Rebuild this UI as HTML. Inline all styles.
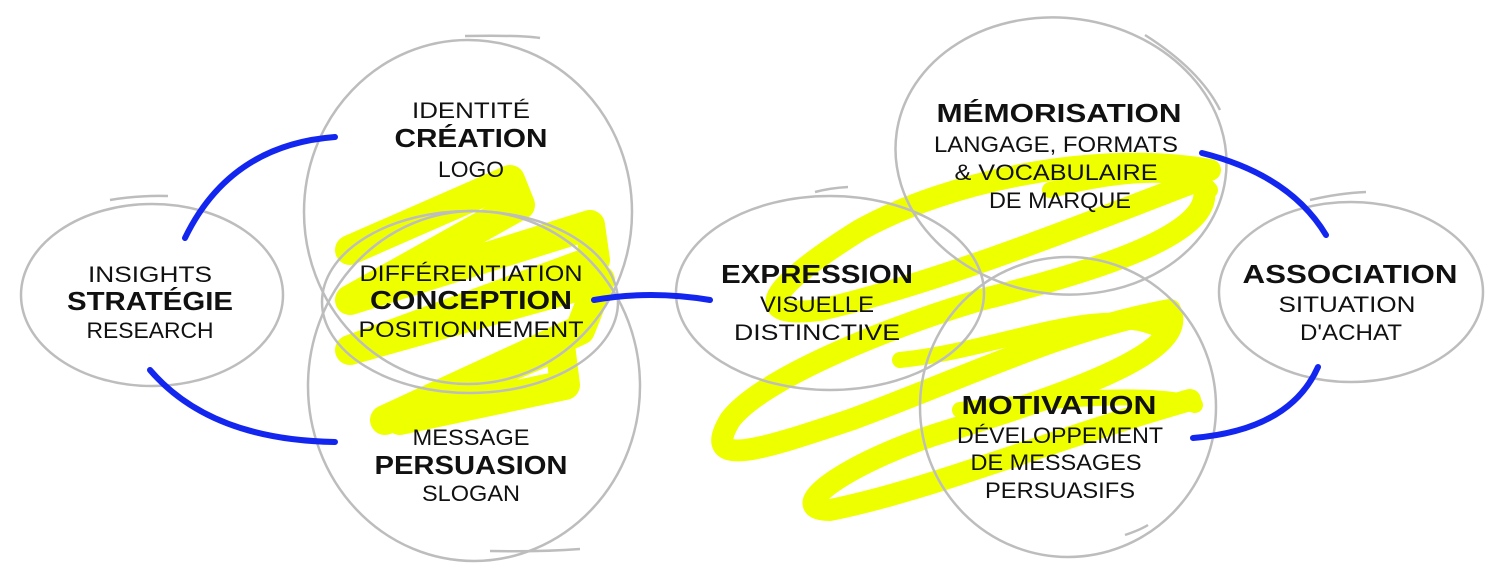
<!DOCTYPE html>
<html><head><meta charset="utf-8"><style>
html,body{margin:0;padding:0;background:#fff;}
svg{display:block}
text{font-family:"Liberation Sans",sans-serif;fill:#111;text-anchor:middle}
.b{font-weight:bold;font-size:26px}
.r{font-size:22px}
</style></head><body>
<svg width="1500" height="583" viewBox="0 0 1500 583" xmlns="http://www.w3.org/2000/svg">
<g stroke="#eeff00" fill="none" stroke-linecap="round" stroke-linejoin="round">
 <path d="M350 250 L510 180 L520 205 L350 300 L590 225 L595 260 L350 350 L600 280 L580 330 L385 420 L560 345 L565 385 L400 420" stroke-width="30"/>
 <path d="M1210 170 C1100 150 950 180 860 230 C780 280 740 320 820 310 C950 280 1120 210 1200 180 C1230 230 1100 270 980 300 C880 330 760 380 730 420 C700 470 760 450 850 420 C960 380 1060 330 1170 310 C1190 350 1080 390 950 430 C850 460 780 510 830 510 C930 490 1050 440 1190 400" stroke-width="22"/>
 <path d="M1050 190 C1150 165 1200 175 1210 190 M900 360 C1000 350 1100 300 1160 330 M960 410 C1050 400 1150 390 1195 405" stroke-width="16"/>
</g>
<g stroke="#bdbdbd" stroke-width="2.5" fill="none">
 <ellipse cx="152" cy="295" rx="131" ry="91"/>
 <path d="M110 200 Q140 195 168 196"/>
 <ellipse cx="468" cy="212" rx="164" ry="172"/>
 <path d="M465 36 Q520 35 540 38"/>
 <ellipse cx="470" cy="302" rx="148" ry="91"/>
 <ellipse cx="474" cy="386" rx="166" ry="175"/>
 <path d="M490 551 Q540 552 580 549"/>
 <ellipse cx="830" cy="293" rx="154" ry="97"/>
 <path d="M815 192 Q830 188 848 187"/>
 <ellipse cx="1061" cy="156" rx="166" ry="138" transform="rotate(8 1061 156)"/>
 <path d="M1145 35 Q1200 70 1220 110"/>
 <ellipse cx="1068" cy="407" rx="148" ry="150"/>
 <path d="M1125 535 Q1140 530 1148 525"/>
 <ellipse cx="1351" cy="292" rx="132" ry="90"/>
 <path d="M1310 200 Q1340 193 1366 192"/>
</g>
<g stroke="#1226f0" stroke-width="6" fill="none" stroke-linecap="round">
 <path d="M185 238 Q230 145 335 137"/>
 <path d="M150 370 Q210 440 335 442"/>
 <path d="M594 300 Q650 290 710 300"/>
 <path d="M1202 153 Q1290 175 1326 235"/>
 <path d="M1318 367 Q1290 430 1193 438"/>
</g>
<text class="r" x="471" y="118" textLength="118" lengthAdjust="spacingAndGlyphs">IDENTITÉ</text>
<text class="b" x="471" y="147" textLength="153" lengthAdjust="spacingAndGlyphs">CRÉATION</text>
<text class="r" x="471" y="177" textLength="66" lengthAdjust="spacingAndGlyphs">LOGO</text>
<text class="r" x="150" y="282" textLength="124" lengthAdjust="spacingAndGlyphs">INSIGHTS</text>
<text class="b" x="150" y="310" textLength="166" lengthAdjust="spacingAndGlyphs">STRATÉGIE</text>
<text class="r" x="150" y="338" textLength="127" lengthAdjust="spacingAndGlyphs">RESEARCH</text>
<text class="r" x="471" y="281" textLength="223" lengthAdjust="spacingAndGlyphs">DIFFÉRENTIATION</text>
<text class="b" x="471" y="309" textLength="202" lengthAdjust="spacingAndGlyphs">CONCEPTION</text>
<text class="r" x="471" y="337" textLength="225" lengthAdjust="spacingAndGlyphs">POSITIONNEMENT</text>
<text class="r" x="471" y="445" textLength="117" lengthAdjust="spacingAndGlyphs">MESSAGE</text>
<text class="b" x="471" y="474" textLength="193" lengthAdjust="spacingAndGlyphs">PERSUASION</text>
<text class="r" x="471" y="501" textLength="98" lengthAdjust="spacingAndGlyphs">SLOGAN</text>
<text class="b" x="817" y="283" textLength="192" lengthAdjust="spacingAndGlyphs">EXPRESSION</text>
<text class="r" x="817" y="312" textLength="114" lengthAdjust="spacingAndGlyphs">VISUELLE</text>
<text class="r" x="817" y="340" textLength="166" lengthAdjust="spacingAndGlyphs">DISTINCTIVE</text>
<text class="b" x="1059" y="122" textLength="245" lengthAdjust="spacingAndGlyphs">MÉMORISATION</text>
<text class="r" x="1056" y="152" textLength="244" lengthAdjust="spacingAndGlyphs">LANGAGE, FORMATS</text>
<text class="r" x="1056" y="180" textLength="203" lengthAdjust="spacingAndGlyphs">&amp; VOCABULAIRE</text>
<text class="r" x="1060" y="208" textLength="142" lengthAdjust="spacingAndGlyphs">DE MARQUE</text>
<text class="b" x="1350" y="283" textLength="215" lengthAdjust="spacingAndGlyphs">ASSOCIATION</text>
<text class="r" x="1347" y="312" textLength="137" lengthAdjust="spacingAndGlyphs">SITUATION</text>
<text class="r" x="1351" y="340" textLength="102" lengthAdjust="spacingAndGlyphs">D'ACHAT</text>
<text class="b" x="1059" y="414" textLength="195" lengthAdjust="spacingAndGlyphs">MOTIVATION</text>
<text class="r" x="1060" y="443" textLength="206" lengthAdjust="spacingAndGlyphs">DÉVELOPPEMENT</text>
<text class="r" x="1056" y="470" textLength="171" lengthAdjust="spacingAndGlyphs">DE MESSAGES</text>
<text class="r" x="1060" y="498" textLength="150" lengthAdjust="spacingAndGlyphs">PERSUASIFS</text>
</svg>
</body></html>
